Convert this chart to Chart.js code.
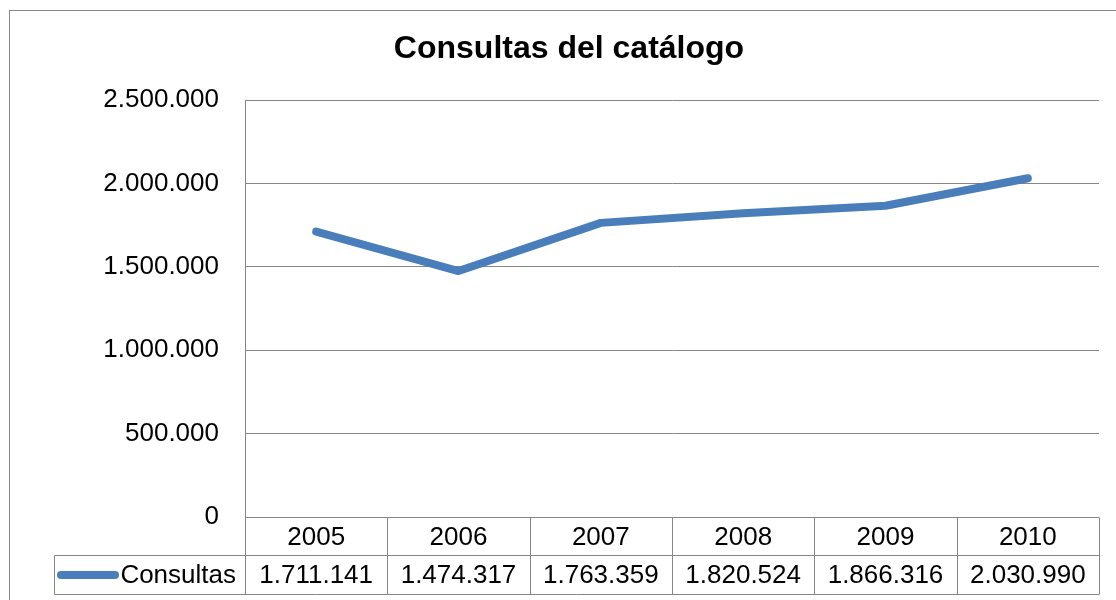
<!DOCTYPE html>
<html>
<head>
<meta charset="utf-8">
<script src="https://cdn.jsdelivr.net/npm/chart.js@4/dist/chart.umd.min.js"></script>
<style>
  html, body { margin: 0; padding: 0; background: #fff; }
  #wrap { width: 1116px; height: 600px; position: relative; }
</style>
</head>
<body>
<div id="wrap"><canvas id="myChart" width="1116" height="600"></canvas></div>
<script>
const title = "Consultas del catálogo";
const years = ["2005", "2006", "2007", "2008", "2009", "2010"];
const seriesName = "Consultas";
const consultas = [1711141, 1474317, 1763359, 1820524, 1866316, 2030990];
const yMax = 2500000;
const yStep = 500000;

const lineColor = "#4A7EBB";
const gridColor = "#868686";
const font = "Liberation Sans, Arial, sans-serif";

// thousands with dots, like the spanish excel original
const fmt = (v) => String(v).replace(/\B(?=(\d{3})+(?!\d))/g, ".");

const framePlugin = {
  id: "frame",
  beforeDraw(chart) {
    const ctx = chart.ctx;
    ctx.save();
    ctx.fillStyle = "#fff";
    ctx.fillRect(0, 0, chart.width, chart.height);
    ctx.strokeStyle = gridColor;
    ctx.lineWidth = 1;
    ctx.strokeRect(9.5, 10.5, 1300, 700);
    ctx.fillStyle = "#000";
    ctx.font = "bold 32px " + font;
    ctx.textAlign = "center";
    ctx.textBaseline = "middle";
    ctx.fillText(title, 569, 49);
    ctx.restore();
  },
};

// data table under the plot, built from the same arrays
const tablePlugin = {
  id: "dataTable",
  afterDraw(chart) {
    const ctx = chart.ctx;
    const area = chart.chartArea;
    const x = chart.scales.x;
    const cellW = (area.right - area.left) / years.length;
    const top = Math.round(area.bottom) + 0.5;
    const mid = top + 38;
    const bot = mid + 39;
    const legendLeft = 54.5;

    ctx.save();
    ctx.strokeStyle = gridColor;
    ctx.lineWidth = 1;
    ctx.beginPath();
    // horizontal lines
    ctx.moveTo(area.left, mid); ctx.lineTo(area.right, mid);
    ctx.moveTo(legendLeft, mid); ctx.lineTo(area.left, mid);
    ctx.moveTo(legendLeft, bot); ctx.lineTo(area.right, bot);
    // vertical lines
    for (let i = 0; i <= years.length; i++) {
      const cx = Math.round(area.left + i * cellW) + 0.5;
      ctx.moveTo(cx, top); ctx.lineTo(cx, bot);
    }
    ctx.moveTo(legendLeft, mid); ctx.lineTo(legendLeft, bot);
    ctx.stroke();

    ctx.fillStyle = "#000";
    ctx.font = "26px " + font;
    ctx.textAlign = "center";
    ctx.textBaseline = "middle";
    years.forEach((y, i) => {
      const cx = x.getPixelForValue(i);
      ctx.fillText(y, cx, (top + mid) / 2 + 1);
      ctx.fillText(fmt(consultas[i]), cx, (mid + bot) / 2 + 1);
    });

    // legend key
    const ly = (mid + bot) / 2;
    ctx.strokeStyle = lineColor;
    ctx.lineWidth = 8;
    ctx.lineCap = "round";
    ctx.beginPath();
    ctx.moveTo(61, ly); ctx.lineTo(115, ly);
    ctx.stroke();
    ctx.textAlign = "right";
    ctx.fillText(seriesName, area.left - 9, ly + 1);
    ctx.restore();
  },
};

new Chart(document.getElementById("myChart").getContext("2d"), {
  type: "line",
  data: {
    labels: years,
    datasets: [
      {
        label: seriesName,
        data: consultas,
        borderColor: lineColor,
        borderWidth: 8,
        borderCapStyle: "round",
        borderJoinStyle: "round",
        pointRadius: 0,
        tension: 0,
      },
    ],
  },
  options: {
    responsive: false,
    animation: false,
    layout: { padding: { top: 100, right: 17, bottom: 83, left: 0 } },
    plugins: {
      legend: { display: false },
      title: { display: false },
      tooltip: { enabled: false },
    },
    scales: {
      x: {
        display: false,
        offset: true,
      },
      y: {
        min: 0,
        max: yMax,
        afterFit: (scale) => { scale.width = 245; },
        ticks: {
          stepSize: yStep,
          padding: 26,
          color: "#000",
          font: { family: font, size: 26 },
          callback: (v) => fmt(v),
        },
        grid: { color: gridColor, drawTicks: false },
        border: { display: true, color: gridColor },
      },
    },
  },
  plugins: [framePlugin, tablePlugin],
});
</script>
</body>
</html>
